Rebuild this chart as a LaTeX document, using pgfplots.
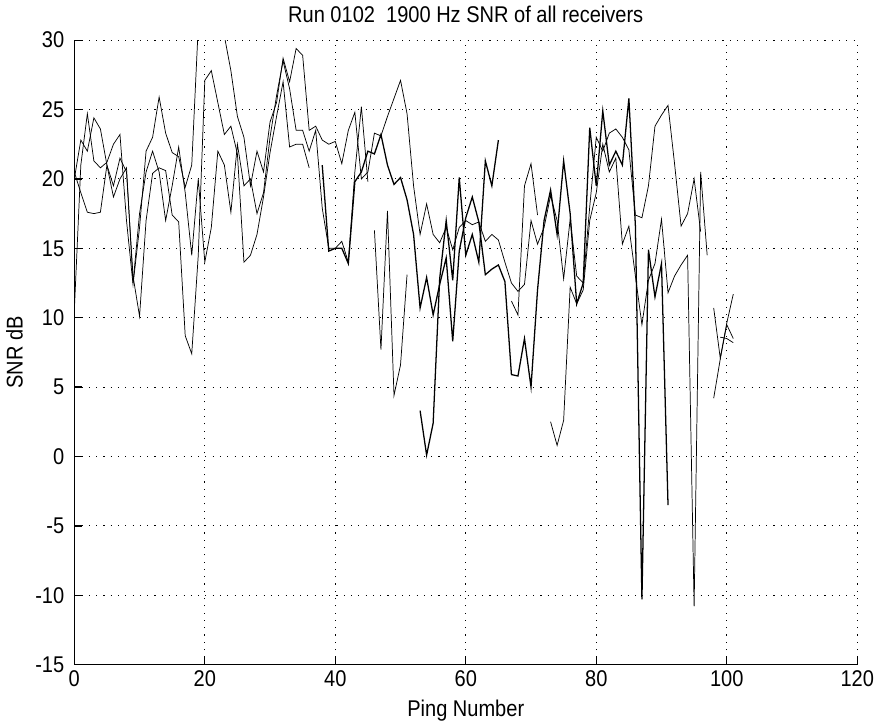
\documentclass[border=0pt]{standalone}
\usepackage{fontspec}
\setmainfont{Liberation Sans}[FakeStretch=0.88]
\usepackage{pgfplots}
\pgfplotsset{compat=1.18}

\begin{document}
\begin{tikzpicture}
\begin{axis}[
  scale only axis, width=430pt, height=343pt,
  xmin=0, xmax=120, ymin=-15, ymax=30,
  xtick={0,20,...,120}, ytick={-15,-10,...,30},
  axis x line*=bottom, axis y line*=left,
  axis line style={-, black, line width=0.7pt},
  tick align=inside, major tick length=4.5pt,
  tick style={black, line width=0.7pt},
  grid=major,
  grid style={black, line width=0.6pt, dash pattern=on 0.6pt off 3.4pt},
  /pgf/number format/assume math mode=true,
  tick label style={font=\fontsize{12.5}{14}\selectfont},
  yticklabel style={xshift=-2pt},
  label style={font=\fontsize{12.5}{14}\selectfont},
  title style={font=\fontsize{12.5}{14}\selectfont},
  xlabel={Ping Number}, ylabel={SNR dB},
  title={Run 0102\ \ 1900 Hz SNR of all receivers},
  cycle list={{black, solid, mark=none, line width=0.7pt}},
  no markers,
]
% receiver 1
\addplot coordinates {(0,10.5)(1,21)(2,24.7)(3,21.3)(4,20.8)(5,21.2)(6,22.5)(7,23.2)(8,17)(9,12.4)(10,16.5)(11,22)(12,23)(13,25.9)(14,23.3)(15,21.9)(16,21.6)(17,19.4)(18,21)(19,31)(20,33)(21,32)(22,31)(23,30.3)(24,27.8)(25,24.5)(26,23)(27,19.5)(28,22)(29,20.5)(30,24.1)(31,25.5)(32,28.7)(33,27)(34,29.4)(35,28.9)(36,23.5)(37,23.8)(38,22.8)(39,22.5)(40,22.7)(41,21.1)(42,23.5)(43,24.8)(44,20)(45,20.5)(46,23.3)(47,23.1)(48,24.5)(49,25.8)(50,27.1)(51,24.7)(52,19.5)(53,16)(54,18.2)(55,16)(56,15.4)(57,16.5)(58,14.9)(59,16.5)(60,17)(61,16.7)(62,16.9)(63,15.5)(64,16)(65,15.6)(66,14)(67,12.5)(68,11.9)(69,12.4)(70,17)(71,15.3)(72,16.5)(73,18.8)(74,17)(75,12.8)(76,17.1)(77,13)(78,12.5)(79,18)(80,23)(81,22)(82,23.3)(83,23.6)(84,23)(85,22.1)(86,17.4)(87,17.2)(88,19.5)(89,23.8)(90,24.6)(91,25.3)(92,21.1)(93,16.6)(94,17.5)(95,20)(96,16.2)};
\addplot coordinates {(98,10.7)(99,7.1)(100,9.6)(101,11.7)};
% receiver 2
\addplot coordinates {(0,20)(1,22.8)(2,22)(3,24.4)(4,23.6)(5,21)(6,19.5)(7,21.5)(8,20.5)(9,13)(10,10.1)(11,17)(12,20.4)(13,20.8)(14,20.6)(15,17.4)(16,16.9)(17,8.7)(18,7.4)(19,14.5)(20,27.1)(21,27.8)(22,25.5)(23,23.2)(24,23.8)(25,21.8)(26,14)(27,14.5)(28,16)(29,18.7)(30,21.9)(31,24.5)(32,27)(33,22.3)(34,22.5)(35,22.5)(36,20.8)};
\addplot coordinates {(38,21)(39,14.8)(40,15)(41,15)(42,13.9)(43,19.8)(44,20.5)(45,22)(46,21.8)(47,23.2)(48,21)(49,19.6)(50,20.1)(51,18.5)(52,16)(53,10.7)(54,12.9)(55,10.2)(56,12.4)(57,14.3)(58,8.3)(59,14.8)(60,17.2)(61,18.7)(62,16.9)(63,13.1)(64,13.5)(65,13.8)(66,12.6)(67,5.9)(68,5.8)(69,8.5)(70,5)(71,12)(72,17)(73,19.2)(74,16)(75,21.3)(76,17.5)(77,11)(78,12.5)(79,23.7)(80,19.5)(81,24.9)(82,21)(83,22)(84,21)(85,25.8)(86,16.6)(87,-10.3)(88,14.9)(89,11.5)(90,13.9)(91,-3.5)};
\addplot coordinates {(98,4.2)(99,7)(100,9.5)(101,8.5)};
% receiver 3
\addplot coordinates {(0,20.5)(1,19)(2,17.6)(3,17.5)(4,17.6)(5,21)(6,18.7)(7,20)(8,20.8)(9,12.5)(10,17.5)(11,20.5)(12,22)(13,20.5)(14,17)(15,19.5)(16,22.3)(17,19)(18,14.5)(19,20)(20,14)(21,16.5)(22,22)(23,21)(24,17.6)(25,22.5)(26,19.5)(27,20)(28,17.5)(29,19)(30,23)(31,26)(32,28.5)(33,26.5)(34,23.5)(35,23.5)(36,22)(37,23.5)(38,17.9)(39,15)(40,15)(41,15.5)(42,14)(43,20.5)(44,25.2)(45,19.8)};
\addplot coordinates {(46,16.3)(47,7.7)(48,17.7)(49,4.4)(50,6.6)(51,13.1)};
\addplot coordinates {(53,3.3)(54,0.1)(55,2.4)(56,12.8)(57,17)(58,12.7)(59,20.1)(60,14.5)(61,16)(62,14)(63,21.3)(64,19.5)(65,22.8)};
\addplot coordinates {(67,11.2)(68,10.2)(69,19.5)(70,21.1)(71,17.4)};
\addplot coordinates {(73,2.5)(74,0.8)(75,2.6)(76,12.2)(77,11)(78,12)(79,17)(80,19)(81,22.5)(82,20.5)(83,21.5)(84,15.3)(85,16.6)(86,13)(87,9.5)(88,12.7)(89,13.9)(90,17.1)(91,11.8)(92,13)(93,13.8)(94,14.5)(95,-10.8)(96,20.5)(97,14.5)};
\addplot coordinates {(99,8.6)(100,8.5)(101,8.2)};
\end{axis}
\end{tikzpicture}
\end{document}
